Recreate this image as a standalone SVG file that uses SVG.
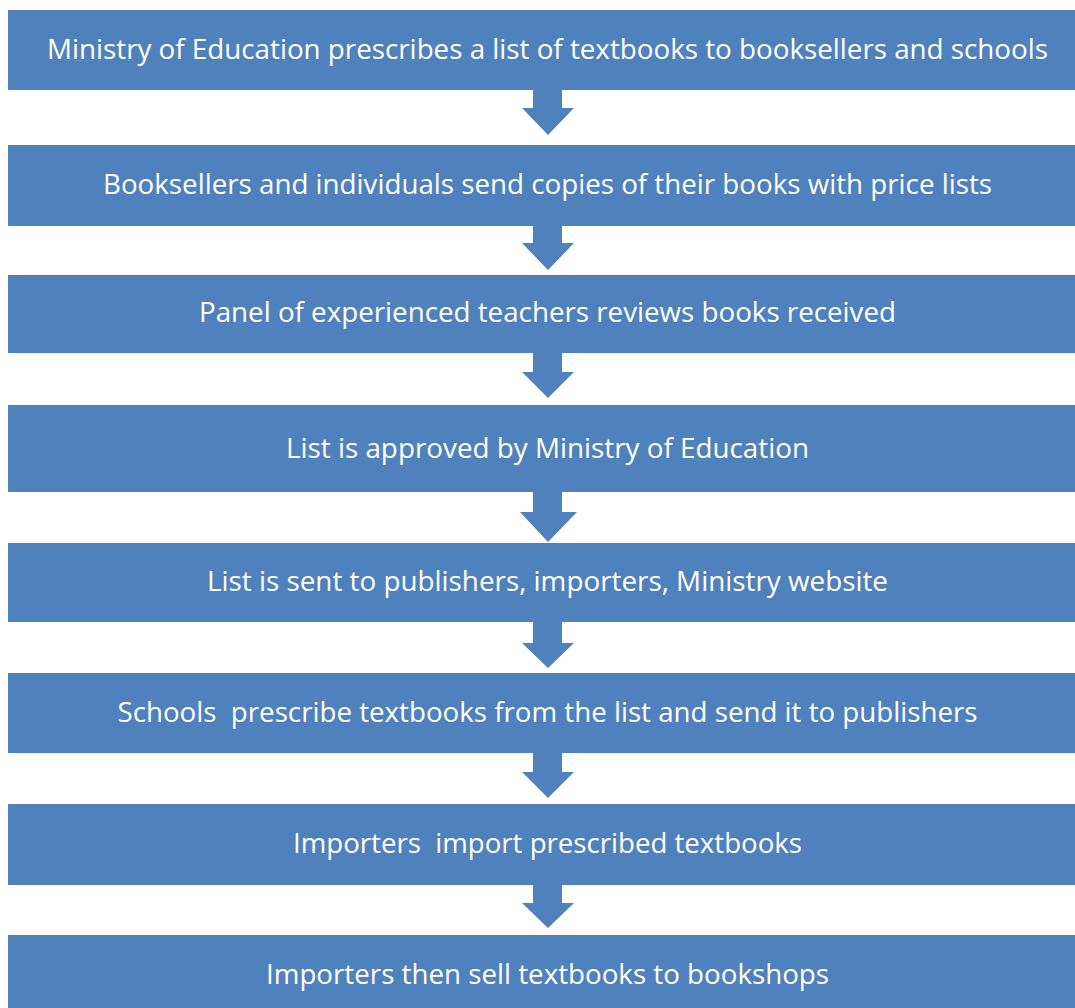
<svg xmlns="http://www.w3.org/2000/svg" width="1075" height="1008" viewBox="0 0 1075 1008">
  <style>
    .box { fill: #4F81BD; }
    .lbl { fill: #FFFFFF; font-family: "Open Sans", "Liberation Sans", sans-serif; font-size: 27px; text-anchor: middle; white-space: pre; }
    .arrow { fill: #4F81BD; }
  </style>
  <rect width="1075" height="1008" fill="#FFFFFF"/>

  <!-- connectors: block arrows between consecutive steps -->
  <g id="connectors">
    <path class="arrow" d="M533,89 H562 V108 H574 L548,135 L522,108 H533 Z"/>
    <path class="arrow" d="M533,225 H562 V243 H574 L548,270 L522,243 H533 Z"/>
    <path class="arrow" d="M533,352 H562 V372 H574 L548,398 L522,372 H533 Z"/>
    <path class="arrow" d="M533,491 H562 V512 H577 L548,542 L520,512 H533 Z"/>
    <path class="arrow" d="M533,621 H562 V643 H574 L548,668 L522,643 H533 Z"/>
    <path class="arrow" d="M533,752 H562 V772 H574 L548,798 L522,772 H533 Z"/>
    <path class="arrow" d="M533,884 H562 V903 H574 L548,928 L522,903 H533 Z"/>
  </g>

  <g id="step1">
    <rect class="box" x="8" y="10" width="1079" height="80"/>
    <text class="lbl" x="547.5" y="59" textLength="1001" lengthAdjust="spacingAndGlyphs">Ministry of Education prescribes a list of textbooks to booksellers and schools</text>
  </g>
  <g id="step2">
    <rect class="box" x="8" y="145" width="1079" height="81"/>
    <text class="lbl" x="547.5" y="194" textLength="889" lengthAdjust="spacingAndGlyphs">Booksellers and individuals send copies of their books with price lists</text>
  </g>
  <g id="step3">
    <rect class="box" x="8" y="275" width="1079" height="78"/>
    <text class="lbl" x="547.5" y="322" textLength="697" lengthAdjust="spacingAndGlyphs">Panel of experienced teachers reviews books received</text>
  </g>
  <g id="step4">
    <rect class="box" x="8" y="405" width="1079" height="87"/>
    <text class="lbl" x="547.5" y="458" textLength="523" lengthAdjust="spacingAndGlyphs">List is approved by Ministry of Education</text>
  </g>
  <g id="step5">
    <rect class="box" x="8" y="543" width="1079" height="79"/>
    <text class="lbl" x="547.5" y="591" textLength="681" lengthAdjust="spacingAndGlyphs">List is sent to publishers, importers, Ministry website</text>
  </g>
  <g id="step6">
    <rect class="box" x="8" y="673" width="1079" height="80"/>
    <text class="lbl" x="547.5" y="722" textLength="860" lengthAdjust="spacingAndGlyphs">Schools  prescribe textbooks from the list and send it to publishers</text>
  </g>
  <g id="step7">
    <rect class="box" x="8" y="804" width="1079" height="81"/>
    <text class="lbl" x="547.5" y="853" textLength="509" lengthAdjust="spacingAndGlyphs">Importers  import prescribed textbooks</text>
  </g>
  <g id="step8">
    <rect class="box" x="8" y="935" width="1079" height="80"/>
    <text class="lbl" x="547.5" y="984" textLength="563" lengthAdjust="spacingAndGlyphs">Importers then sell textbooks to bookshops</text>
  </g>
</svg>
